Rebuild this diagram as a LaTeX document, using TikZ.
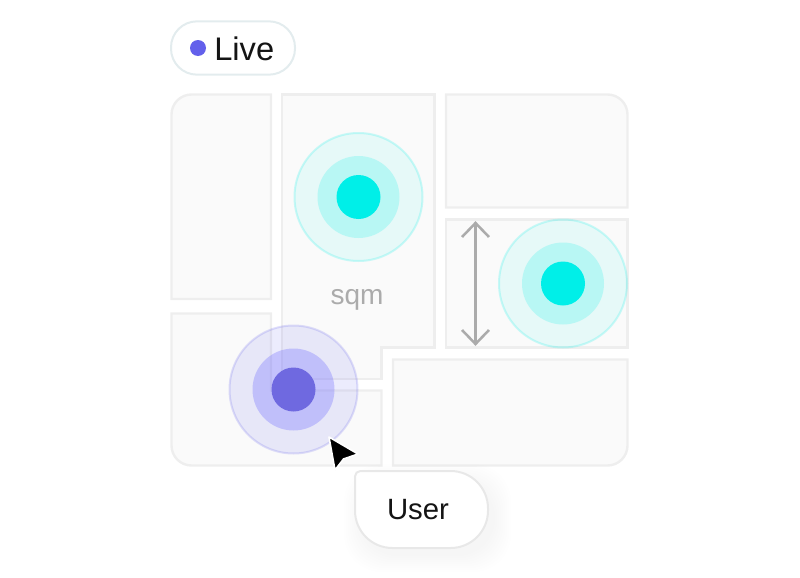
\documentclass[tikz,border=0pt]{standalone}
\usepackage{fontspec}
\setmainfont{Liberation Sans}
\definecolor{roomfill}{HTML}{FAFAFA}
\definecolor{roomline}{HTML}{EEEEEE}
\definecolor{pillline}{HTML}{E3ECEE}
\definecolor{liveblue}{HTML}{6360EB}
\definecolor{midblue}{HTML}{7A76FF}
\definecolor{dotblue}{HTML}{6F69E0}
\definecolor{signal}{HTML}{00EFE8}
\definecolor{labelgray}{HTML}{ABABAB}
\definecolor{inktext}{HTML}{141414}
\tikzset{
  room/.style={draw=roomline, fill=roomfill, line width=1.8pt, line join=miter},
  ringout/.style={fill=#1, fill opacity=0.08, draw=#1, draw opacity=0.2, line width=1.5pt},
  ringmid/.style={fill=#1, opacity=0.2},
  arrowline/.style={labelgray, line width=1.9pt},
}
\begin{document}
\begin{tikzpicture}[x=0.75pt,y=-0.75pt]
  \useasboundingbox (0,0) rectangle (800,578);
  % Floor plan rooms
  \draw[room] (171.5,299) [rounded corners=15pt] -- (171.5,94.5) [sharp corners] -- (271,94.5) -- (271,299) -- cycle;
  \draw[room] (282,94.5) -- (434.5,94.5) -- (434.5,347.5) -- (381.5,347.5) -- (381.5,379) -- (282,379) -- cycle;
  \draw[room] (446,207.5) -- (446,94.5) [rounded corners=15pt] -- (627.5,94.5) [sharp corners] -- (627.5,207.5) -- cycle;
  \draw[room] (446,219.5) rectangle (627.5,347.5);
  \draw[room] (393,359.5) -- (627.5,359.5) [rounded corners=15pt] -- (627.5,465.5) [sharp corners] -- (393,465.5) -- cycle;
  \draw[room] (171.5,313.5) -- (271,313.5) -- (271,390.5) -- (381.5,390.5) -- (381.5,465.5) [rounded corners=15pt] -- (171.5,465.5) [sharp corners] -- cycle;
  % Height arrow
  \coordinate (top) at (475.5,223);
  \coordinate (bot) at (475.5,344);
  \draw[arrowline] (top) -- (bot);
  \draw[arrowline] (462,237) -- (top) -- (489,237);
  \draw[arrowline] (462,330) -- (bot) -- (489,330);
  \node[text=labelgray, font=\fontsize{21}{24}\selectfont] (sqm) at (357,300) {sqm};
  % Signal circles
  \foreach \x/\y in {358.5/197, 563/283.5} {
    \path[ringout=signal] (\x,\y) circle (64);
    \fill[ringmid=signal] (\x,\y) circle (41);
    \fill[signal] (\x,\y) circle (22);
  }
  \path[ringout=liveblue, fill opacity=0.12] (293.5,389.5) circle (64);
  \fill[ringmid=midblue, opacity=0.35] (293.5,389.5) circle (41);
  \fill[dotblue] (293.5,389.5) circle (22);
  % Live badge
  \node[draw=pillline, line width=1.5pt, fill=white, rounded corners=19.5pt, minimum width=93pt, minimum height=40pt, inner sep=0pt] (badge) at (233,48) {};
  \node[circle, fill=liveblue, minimum size=12pt, inner sep=0pt] (livedot) at (198,48) {};
  \node[font=\fontsize{24.5}{28}\selectfont, text=inktext, right=0pt, inner sep=0pt] (live) at (214,49) {Live};
  % User bubble with soft shadow
  \foreach \w in {0,2,...,16} {
    \fill[black, opacity=0.005, rounded corners=28pt] (360-\w,480-\w) rectangle (495+\w,556+\w);
  }
  \draw[fill=white, draw=black!9, line width=1.5pt] (355,500) [rounded corners=28pt] -- (355,548) -- (488,548) -- (488,471) [rounded corners=4pt] -- (355,471) -- cycle;
  \node[font=\fontsize{22}{26}\selectfont, text=inktext] (user) at (418,510) {User};
  % Cursor
  \draw[fill=black, draw=white, line width=1.2pt, line join=round] (329,437) -- (358,454) -- (343.5,459) -- (335,470) -- cycle;
\end{tikzpicture}
\end{document}
